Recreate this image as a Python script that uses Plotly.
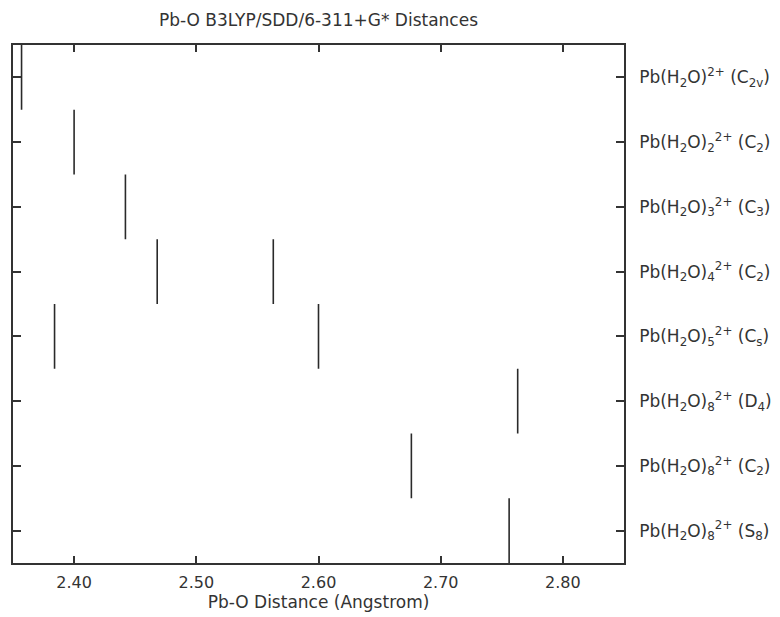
import plotly.graph_objects as go

# Pb-O bond distances (Angstrom) for each optimised Pb(H2O)n 2+ structure
structures = [
    "Pb(H<sub>2</sub>O)<sup>2+</sup> (C<sub>2v</sub>)",
    "Pb(H<sub>2</sub>O)<sub>2</sub><sup>2+</sup> (C<sub>2</sub>)",
    "Pb(H<sub>2</sub>O)<sub>3</sub><sup>2+</sup> (C<sub>3</sub>)",
    "Pb(H<sub>2</sub>O)<sub>4</sub><sup>2+</sup> (C<sub>2</sub>)",
    "Pb(H<sub>2</sub>O)<sub>5</sub><sup>2+</sup> (C<sub>s</sub>)",
    "Pb(H<sub>2</sub>O)<sub>8</sub><sup>2+</sup> (D<sub>4</sub>)",
    "Pb(H<sub>2</sub>O)<sub>8</sub><sup>2+</sup> (C<sub>2</sub>)",
    "Pb(H<sub>2</sub>O)<sub>8</sub><sup>2+</sup> (S<sub>8</sub>)",
]
distances = [
    [2.357],
    [2.400],
    [2.442],
    [2.468, 2.563],
    [2.384, 2.600],
    [2.763],
    [2.676],
    [2.756],
]
x_ticks = [2.40, 2.50, 2.60, 2.70, 2.80]

FONT = "DejaVu Sans, Liberation Sans, Arial, sans-serif"
INK = "#333333"

fig = go.Figure()

# one vertical stick per distance, spanning the structure's band
for row, values in enumerate(distances, start=1):
    for d in values:
        fig.add_trace(go.Scatter(
            x=[d, d], y=[row - 0.5, row + 0.5],
            mode="lines",
            line=dict(color="#2a2a2a", width=1.6),
            hoverinfo="x",
            showlegend=False,
        ))

fig.update_layout(
    width=780, height=617,
    margin=dict(l=13, r=156, t=45, b=54),
    paper_bgcolor="white", plot_bgcolor="white",
    font=dict(family=FONT, color=INK, size=16),
    title=dict(
        text="Pb-O B3LYP/SDD/6-311+G* Distances",
        x=(13 + 624) / 2 / 780, xanchor="center",
        y=1 - 20 / 617, yanchor="middle",
        font=dict(family=FONT, size=17, color=INK),
    ),
)

fig.update_xaxes(
    range=[2.35, 2.85],
    tickvals=x_ticks, tickformat=".2f",
    ticks="inside", ticklen=7, tickwidth=1.5, tickcolor=INK,
    showline=True, linecolor=INK, linewidth=1.6, mirror="ticks",
    showgrid=False, zeroline=False,
    tickfont=dict(size=16),
    ticklabelstandoff=4,
    automargin=False,
    title=dict(text="Pb-O Distance (Angstrom)", standoff=4, font=dict(size=17)),
)

fig.update_yaxes(
    range=[8.5, 0.5],
    tickvals=list(range(1, len(structures) + 1)),
    ticktext=structures,
    side="right",
    ticks="inside", ticklen=8, tickwidth=1.5, tickcolor=INK,
    showline=True, linecolor=INK, linewidth=1.6, mirror="ticks",
    showgrid=False, zeroline=False,
    tickfont=dict(size=17),
    ticklabelstandoff=10,
    automargin=False,
)

fig.write_html("out.html")
